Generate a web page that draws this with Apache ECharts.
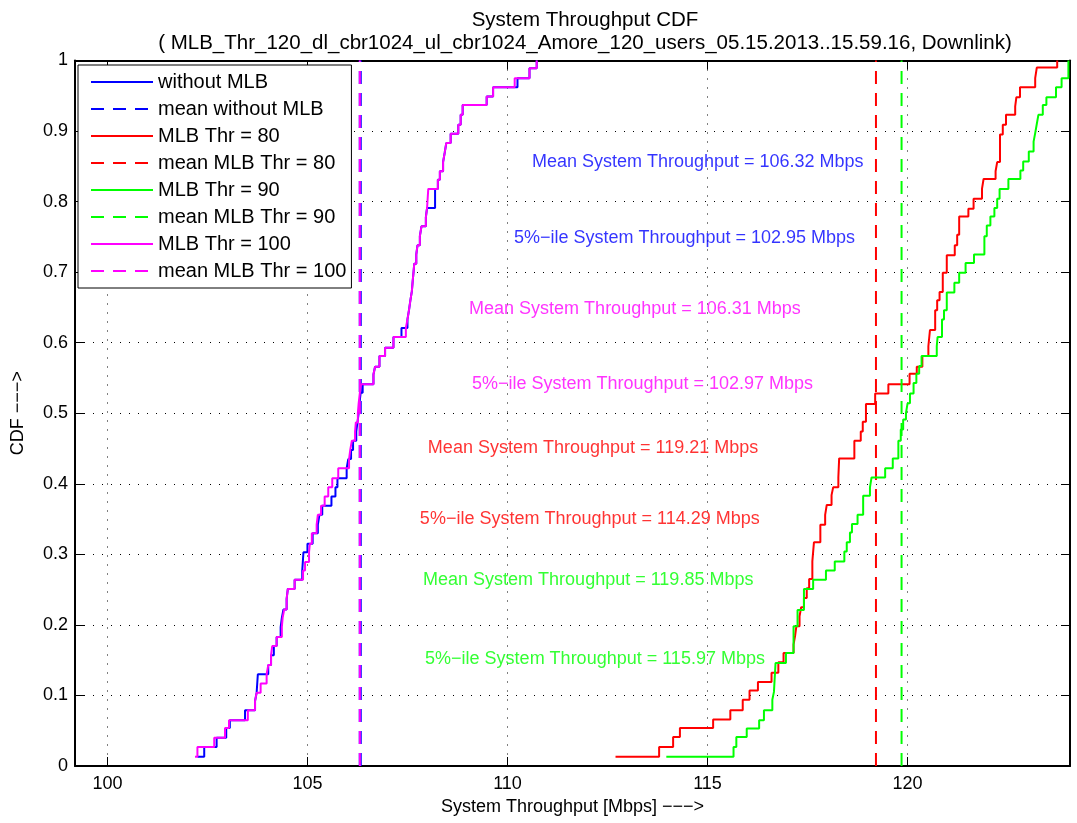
<!DOCTYPE html>
<html>
<head>
<meta charset="utf-8">
<title>System Throughput CDF</title>
<script src="https://cdn.jsdelivr.net/npm/echarts@6/dist/echarts.min.js"></script>
<style>
  html, body { margin: 0; padding: 0; background: #fff; }
  #main { width: 1077px; height: 823px; }
</style>
</head>
<body>
<div id="main"></div>
<script>
// step points of each CDF: [throughput in Mbps, cdf]
var withoutMLB = [
  [102.25, 0.013], [102.42, 0.027], [102.73, 0.040], [102.97, 0.054], [103.06, 0.065], [103.44, 0.079],
  [103.69, 0.092], [103.73, 0.104], [103.76, 0.130], [104.02, 0.143], [104.09, 0.157], [104.16, 0.170],
  [104.23, 0.183], [104.33, 0.197], [104.36, 0.210], [104.40, 0.222], [104.48, 0.237], [104.51, 0.251],
  [104.68, 0.264], [104.87, 0.277], [104.90, 0.303], [105.00, 0.315], [105.13, 0.330], [105.26, 0.342],
  [105.30, 0.356], [105.37, 0.369], [105.60, 0.382], [105.70, 0.395], [105.75, 0.408], [105.98, 0.422],
  [106.02, 0.435], [106.09, 0.448], [106.14, 0.461], [106.22, 0.474], [106.25, 0.487], [106.28, 0.500],
  [106.30, 0.514], [106.33, 0.529], [106.38, 0.541], [106.65, 0.555], [106.69, 0.566], [106.80, 0.581],
  [106.94, 0.593], [107.15, 0.608], [107.35, 0.621], [107.50, 0.633], [107.54, 0.647], [107.57, 0.659],
  [107.61, 0.673], [107.63, 0.687], [107.65, 0.699], [107.67, 0.712], [107.72, 0.725], [107.75, 0.738],
  [107.81, 0.751], [107.85, 0.765], [107.96, 0.778], [107.99, 0.791], [108.19, 0.818], [108.26, 0.831],
  [108.31, 0.843], [108.39, 0.856], [108.43, 0.869], [108.47, 0.883], [108.58, 0.896], [108.77, 0.909],
  [108.83, 0.923], [108.88, 0.937], [109.48, 0.949], [109.64, 0.962], [110.25, 0.975], [110.55, 0.989],
  [110.73, 1.000]
];
var thr80 = [
  [112.70, 0.013], [113.79, 0.027], [114.14, 0.041], [114.31, 0.054], [115.14, 0.066], [115.57, 0.079],
  [115.88, 0.094], [116.05, 0.107], [116.26, 0.119], [116.60, 0.132], [116.77, 0.147], [116.90, 0.160],
  [117.15, 0.172], [117.19, 0.185], [117.22, 0.198], [117.30, 0.212], [117.34, 0.225], [117.41, 0.238],
  [117.48, 0.252], [117.54, 0.265], [117.62, 0.290], [117.66, 0.317], [117.82, 0.342], [117.94, 0.356],
  [117.98, 0.370], [118.10, 0.384], [118.14, 0.395], [118.27, 0.409], [118.29, 0.436], [118.67, 0.461],
  [118.83, 0.474], [118.88, 0.488], [118.96, 0.513], [119.19, 0.528], [119.52, 0.541], [120.05, 0.556],
  [120.23, 0.566], [120.37, 0.581], [120.52, 0.595], [120.56, 0.618], [120.69, 0.646], [120.74, 0.660],
  [120.80, 0.672], [120.88, 0.699], [120.98, 0.724], [121.18, 0.738], [121.24, 0.753], [121.29, 0.779],
  [121.52, 0.790], [121.65, 0.804], [121.86, 0.818], [121.90, 0.832], [122.20, 0.843], [122.24, 0.856],
  [122.31, 0.895], [122.38, 0.909], [122.46, 0.923], [122.69, 0.935], [122.72, 0.948], [122.81, 0.962],
  [123.19, 0.975], [123.23, 0.990], [123.74, 1.000]
];
var thr90 = [
  [113.97, 0.013], [115.65, 0.027], [115.72, 0.041], [115.98, 0.053], [116.29, 0.065], [116.41, 0.079],
  [116.62, 0.094], [116.66, 0.105], [116.70, 0.146], [116.96, 0.160], [117.15, 0.198], [117.25, 0.221],
  [117.41, 0.251], [117.64, 0.264], [117.96, 0.277], [118.18, 0.290], [118.42, 0.304], [118.48, 0.317],
  [118.56, 0.331], [118.61, 0.343], [118.75, 0.356], [118.89, 0.383], [119.06, 0.395], [119.10, 0.409],
  [119.44, 0.422], [119.63, 0.436], [119.77, 0.461], [119.83, 0.477], [119.89, 0.491], [119.96, 0.500],
  [120.00, 0.514], [120.06, 0.528], [120.15, 0.543], [120.22, 0.556], [120.29, 0.567], [120.35, 0.581],
  [120.73, 0.595], [120.75, 0.608], [120.86, 0.633], [120.91, 0.646], [120.98, 0.671], [121.17, 0.685],
  [121.29, 0.699], [121.45, 0.713], [121.66, 0.725], [121.92, 0.751], [121.98, 0.766], [122.07, 0.779],
  [122.17, 0.791], [122.24, 0.804], [122.30, 0.818], [122.52, 0.832], [122.82, 0.844], [122.89, 0.857],
  [123.03, 0.871], [123.15, 0.885], [123.19, 0.897], [123.23, 0.910], [123.27, 0.923], [123.38, 0.937],
  [123.47, 0.948], [123.71, 0.962], [123.85, 0.975], [124.02, 1.000]
];
var thr100 = [
  [102.19, 0.013], [102.25, 0.027], [102.67, 0.040], [102.94, 0.054], [103.04, 0.065], [103.51, 0.079],
  [103.69, 0.092], [103.73, 0.104], [103.83, 0.117], [103.98, 0.130], [104.02, 0.143], [104.09, 0.157],
  [104.12, 0.170], [104.23, 0.183], [104.36, 0.197], [104.38, 0.210], [104.42, 0.222], [104.48, 0.237],
  [104.51, 0.251], [104.68, 0.264], [104.89, 0.277], [104.94, 0.289], [105.04, 0.303], [105.06, 0.315],
  [105.11, 0.330], [105.23, 0.342], [105.26, 0.356], [105.34, 0.369], [105.43, 0.382], [105.52, 0.395],
  [105.62, 0.408], [105.77, 0.422], [106.04, 0.435], [106.07, 0.448], [106.11, 0.461], [106.19, 0.474],
  [106.21, 0.487], [106.26, 0.500], [106.28, 0.514], [106.31, 0.529], [106.34, 0.541], [106.65, 0.555],
  [106.69, 0.566], [106.80, 0.581], [106.94, 0.593], [107.15, 0.608], [107.46, 0.621], [107.50, 0.633],
  [107.54, 0.647], [107.57, 0.659], [107.61, 0.673], [107.63, 0.687], [107.65, 0.699], [107.67, 0.712],
  [107.72, 0.725], [107.75, 0.738], [107.81, 0.751], [107.85, 0.765], [107.96, 0.778], [107.99, 0.791],
  [108.02, 0.818], [108.26, 0.831], [108.31, 0.843], [108.39, 0.856], [108.43, 0.869], [108.47, 0.883],
  [108.58, 0.896], [108.77, 0.909], [108.83, 0.923], [108.88, 0.937], [109.48, 0.949], [109.64, 0.962],
  [110.18, 0.975], [110.55, 0.989], [110.73, 1.000]
];

var seriesNames = ['without MLB', 'MLB Thr = 80', 'MLB Thr = 90', 'MLB Thr = 100'];
var meanNames = ['mean without MLB', 'mean MLB Thr = 80', 'mean MLB Thr = 90', 'mean MLB Thr = 100'];
var meanValues = [106.32, 119.21, 119.85, 106.31];
var xTicks = [100, 105, 110, 115, 120];

var annotTexts = [
  'Mean System Throughput = 106.32 Mbps',
  '5%\u2212ile System Throughput = 102.95 Mbps',
  'Mean System Throughput = 106.31 Mbps',
  '5%\u2212ile System Throughput = 102.97 Mbps',
  'Mean System Throughput = 119.21 Mbps',
  '5%\u2212ile System Throughput = 114.29 Mbps',
  'Mean System Throughput = 119.85 Mbps',
  '5%\u2212ile System Throughput = 115.97 Mbps'
];
var annotX = [110.61, 110.16, 109.04, 109.11, 108.01, 107.81, 107.89, 107.94];
var annotY = [0.856, 0.748, 0.648, 0.541, 0.451, 0.350, 0.264, 0.152];
var annotSeries = [0, 0, 3, 3, 1, 1, 2, 2]; // which curve each text belongs to

var colors = ['#0000ff', '#ff0000', '#00ff00', '#ff00ff'];
var curves = [withoutMLB, thr80, thr90, thr100];
var font = '"Liberation Sans", Arial, Helvetica, sans-serif';

var chart = echarts.init(document.getElementById('main'));

var series = [];
var legendNames = [];
for (var i = 0; i < curves.length; i++) {
  series.push({
    name: seriesNames[i],
    type: 'line',
    step: 'end',
    symbol: 'none',
    data: curves[i],
    lineStyle: { color: colors[i], width: 2 },
    itemStyle: { color: colors[i] },
    animation: false
  });
  series.push({
    name: meanNames[i],
    type: 'line',
    symbol: 'none',
    data: [[meanValues[i], 0], [meanValues[i], 1]],
    // blue mean sits under the magenta one, a bit wider so it still shows
    lineStyle: { color: colors[i], width: i === 0 ? 3 : 2, type: [13, 9] },
    itemStyle: { color: colors[i] },
    animation: false
  });
  legendNames.push(seriesNames[i], meanNames[i]);
}

// annotation texts placed in data coordinates
series.push({
  type: 'scatter',
  symbolSize: 0,
  silent: true,
  animation: false,
  data: annotTexts.map(function (t, k) {
    return {
      name: t,
      value: [annotX[k], annotY[k]],
      label: { color: colors[annotSeries[k]] }
    };
  }),
  label: {
    show: true,
    position: 'right',
    distance: 0,
    fontSize: 18,
    fontFamily: font,
    formatter: '{b}'
  }
});

var tickLine = { show: true, inside: true, length: 9, lineStyle: { color: '#000', width: 1 } };
var gridLine = { show: true, lineStyle: { color: '#000', width: 1, type: [1, 8] } };
var boxLine = { show: true, onZero: false, lineStyle: { color: '#000', width: 2 } };

chart.setOption({
  backgroundColor: '#fff',
  textStyle: { fontFamily: font },
  title: {
    text: 'System Throughput CDF\n( MLB_Thr_120_dl_cbr1024_ul_cbr1024_Amore_120_users_05.15.2013..15.59.16, Downlink)',
    left: 580,
    top: 4,
    textAlign: 'center',
    textStyle: { fontSize: 20.5, fontWeight: 'normal', color: '#000', lineHeight: 23, fontFamily: font }
  },
  legend: {
    data: legendNames,
    orient: 'vertical',
    left: 78,
    top: 65,
    padding: [7, 5, 7, 12],
    itemWidth: 62,
    itemHeight: 14,
    itemGap: 7,
    backgroundColor: '#fff',
    borderColor: '#000',
    borderWidth: 1,
    itemStyle: { opacity: 0 },
    textStyle: { fontSize: 20, color: '#000', lineHeight: 18, fontFamily: font },
    selectedMode: false
  },
  grid: { left: 75, right: 7, top: 60.5, bottom: 57, containLabel: false },
  xAxis: [{
    type: 'value',
    min: 99.19,
    max: 124.06,
    name: 'System Throughput [Mbps] \u2212\u2212\u2212>',
    nameLocation: 'middle',
    nameGap: 28,
    nameTextStyle: { fontSize: 18, color: '#000', fontFamily: font },
    axisLine: boxLine,
    axisTick: Object.assign({ customValues: xTicks }, tickLine),
    axisLabel: { customValues: xTicks, fontSize: 18, color: '#000', margin: 9, fontFamily: font },
    splitLine: gridLine
  }, {
    type: 'value',
    position: 'top',
    min: 99.19,
    max: 124.06,
    axisLine: boxLine,
    axisTick: Object.assign({ customValues: xTicks }, tickLine),
    axisLabel: { show: false },
    splitLine: { show: false }
  }],
  yAxis: [{
    type: 'value',
    min: 0,
    max: 1,
    interval: 0.1,
    name: 'CDF \u2212\u2212\u2212>',
    nameLocation: 'middle',
    nameGap: 48,
    nameTextStyle: { fontSize: 18, color: '#000', fontFamily: font },
    axisLine: boxLine,
    axisTick: tickLine,
    axisLabel: { fontSize: 18, color: '#000', margin: 7, fontFamily: font },
    splitLine: gridLine
  }, {
    type: 'value',
    position: 'right',
    min: 0,
    max: 1,
    interval: 0.1,
    axisLine: boxLine,
    axisTick: tickLine,
    axisLabel: { show: false },
    splitLine: { show: false }
  }],
  series: series
});
</script>
</body>
</html>
